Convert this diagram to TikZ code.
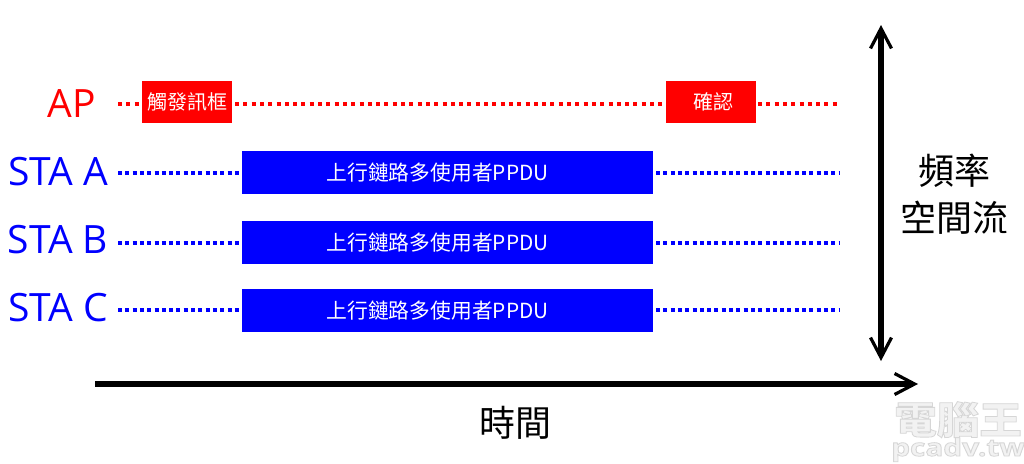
\documentclass[tikz,border=0pt]{standalone}
\usepackage{fontspec}
\setmainfont{Open Sans}
\newfontfamily\cjk{Noto Sans CJK TC}
\usetikzlibrary{arrows.meta}
\definecolor{apred}{RGB}{255,0,0}
\definecolor{stablue}{RGB}{0,0,255}
\newcommand{\wmoutline}[1]{\special{pdf:code q 2 Tr 0.8 w 0.84 G 0.95 g}#1\special{pdf:code 0 Tr Q}}
\tikzset{
  x=1pt,y=-1pt,
  framebox/.style={anchor=north west,inner sep=0pt,outer sep=0pt,text=white},
  redbox/.style={framebox,fill=apred,minimum width=90pt,minimum height=42pt,font=\cjk\fontsize{20}{22}\selectfont},
  bluebox/.style={framebox,fill=stablue,minimum width=411pt,minimum height=43pt,font=\cjk\fontsize{20.8}{24}\selectfont},
  stalabel/.style={inner sep=0pt,font=\fontsize{39}{42}\selectfont},
  axislabel/.style={inner sep=0pt,font=\cjk\fontsize{36}{48}\selectfont,text=black},
  reddots/.style={draw=apred,line width=3.5pt,dash pattern=on 4pt off 4.3pt},
  bluedots/.style={draw=stablue,line width=3.5pt,dash pattern=on 4pt off 3.3pt},
  axisarrow/.style={draw=black,line width=6pt,-{Straight Barb[length=20pt,width=21pt,line width=3.2pt]}},
  bothaxis/.style={draw=black,line width=6pt,{Straight Barb[length=20pt,width=21pt,line width=3.2pt]}-{Straight Barb[length=20pt,width=21pt,line width=3.2pt]}},
}
\begin{document}
\begin{tikzpicture}
\useasboundingbox (0,0) rectangle (1024,463);
% labels
\node[stalabel,text=apred] (ap) at (71.5,104) {AP};
\node[stalabel,text=stablue] (staa) at (58,172) {STA A};
\node[stalabel,text=stablue] (stab) at (58,240) {STA B};
\node[stalabel,text=stablue] (stac) at (58,308) {STA C};
% boxes
\node[redbox] (trig) at (142,81) {\hspace{1pt}觸發訊框};
\node[redbox] (ack) at (666,81) {\hspace{4pt}確認};
\node[bluebox] (ppa) at (242,151) {\raisebox{-1.5pt}{上行鏈路多使用者PPDU}\kern20pt};
\node[bluebox] (ppb) at (242,221) {\raisebox{-1.5pt}{上行鏈路多使用者PPDU}\kern20pt};
\node[bluebox] (ppc) at (242,289) {\raisebox{-1.5pt}{上行鏈路多使用者PPDU}\kern20pt};
% free ends
\coordinate (apl) at (118,104); \coordinate (apr) at (840,104);
\coordinate (al) at (118,173); \coordinate (ar) at (840,173);
\coordinate (bl) at (118,243); \coordinate (br) at (840,243);
\coordinate (cl) at (118,310); \coordinate (cr) at (840,310);
% dotted lines
\draw[reddots] (apl) -- (trig.west |- apl);
\draw[reddots] (trig.east |- apl) ++(3,0) -- (ack.west |- apl);
\draw[reddots] (ack.east |- apr) ++(2,0) -- (apr);
\draw[bluedots] (al) -- (ppa.west |- al);
\draw[bluedots] (ppa.east |- ar) ++(3,0) -- (ar);
\draw[bluedots] (bl) -- (ppb.west |- bl);
\draw[bluedots] (ppb.east |- br) ++(3,0) -- (br);
\draw[bluedots] (cl) -- (ppc.west |- cl);
\draw[bluedots] (ppc.east |- cr) ++(3,0) -- (cr);
% axes
\coordinate (vt) at (881,25); \coordinate (vb) at (881,361);
\coordinate (hl) at (95,384); \coordinate (hr) at (918,384);
\draw[bothaxis] (vt) -- (vb);
\draw[axisarrow] (hl) -- (hr);
\node[axislabel,align=center] (freq) at (954,194) {頻率\\[-1pt]空間流};
\node[axislabel] (time) at (515,423) {時間};
% watermark
\node[inner sep=0pt,anchor=base,font=\cjk\bfseries\fontsize{38}{38}\selectfont] (wm1) at (958,434) {\scalebox{1.12}[1]{\wmoutline{電腦王}}};
\node[inner sep=0pt,anchor=base,font=\bfseries\fontsize{24}{24}\selectfont] (wm2) at (958,456) {\scalebox{1.24}[1]{\wmoutline{pcadv.tw}}};
\end{tikzpicture}
\end{document}
